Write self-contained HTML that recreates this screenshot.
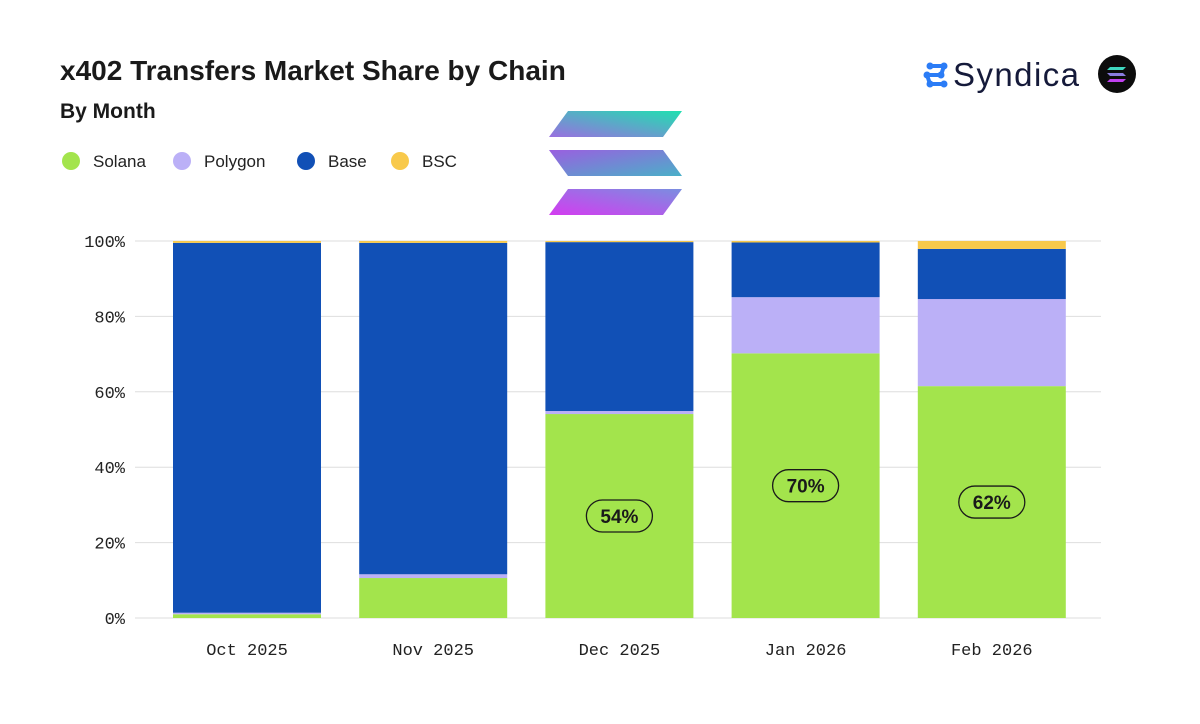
<!DOCTYPE html>
<html><head><meta charset="utf-8"><style>
body{margin:0;background:#fff;width:1200px;height:719px;overflow:hidden;font-family:"Liberation Sans",sans-serif}
</style></head><body>
<svg width="1200" height="719">
<defs>
<linearGradient id="g1" x1="0" y1="1" x2="1" y2="0"><stop offset="0" stop-color="#9a6fe0"/><stop offset="1" stop-color="#1fe0b0"/></linearGradient>
<linearGradient id="g2" x1="0" y1="0" x2="1" y2="1"><stop offset="0" stop-color="#9a5fe0"/><stop offset="1" stop-color="#4ab0c8"/></linearGradient>
<linearGradient id="g3" x1="0" y1="1" x2="1" y2="0"><stop offset="0" stop-color="#d43cf0"/><stop offset="1" stop-color="#7a8ee0"/></linearGradient>
</defs>
<text x="60" y="80" font-size="28" font-weight="bold" fill="#1a1a1a">x402 Transfers Market Share by Chain</text>
<text x="60" y="118" font-size="21" font-weight="bold" fill="#1a1a1a">By Month</text>
<g>
<polygon points="568,111 682,111 663,137 549,137" fill="url(#g1)"/>
<polygon points="549,150 663,150 682,176 568,176" fill="url(#g2)"/>
<polygon points="568,189 682,189 663,215 549,215" fill="url(#g3)"/>
</g>
<g>
<g fill="#2b7cf6"><circle cx="930" cy="66" r="3.5"/><circle cx="944" cy="66" r="3.5"/><circle cx="927" cy="75" r="3.5"/><circle cx="941" cy="75" r="3.5"/><circle cx="930" cy="84" r="3.5"/><circle cx="944" cy="84" r="3.5"/>
<path d="M930 66L944 66M927 75L941 75M930 84L944 84M944 66L941 75M930 84L927 75" stroke="#2b7cf6" stroke-width="4"/></g>
<text x="953" y="86" font-size="33" fill="#151a3a" textLength="126">Syndica</text>
<circle cx="1117" cy="74" r="19" fill="#0c0c0c"/>
<polygon points="1110,67 1126,67 1123,70 1107,70" fill="#3fd8c0"/>
<polygon points="1107,73 1123,73 1126,76 1110,76" fill="#8a7ce0"/>
<polygon points="1110,79 1126,79 1123,82 1107,82" fill="#c040f0"/>
</g>
<g id="legend"></g>
<g id="grid"></g><g id="bars"></g><g id="labels"></g>
</svg>
<script>
const categories=["Oct 2025","Nov 2025","Dec 2025","Jan 2026","Feb 2026"];
const solana=[1.0,10.6,54.1,70.2,61.5];
const polygon=[0.4,1.0,0.8,14.9,23.1];
const base=[98.1,87.9,44.8,14.5,13.3];
const bsc=[0.5,0.5,0.3,0.4,2.1];
const yTicks=[0,20,40,60,80,100];
const highlight=[null,null,"54%","70%","62%"];
const seriesNames=["Solana","Polygon","Base","BSC"];
const colors=["#a3e44c","#bbb0f7","#1150b6","#f8c94b"];
const NS="http://www.w3.org/2000/svg";
const y0=618,y1=241,plotL=135,plotR=1101;
const y=v=>y0-(y0-y1)*v/100;
const x=i=>173+i*186.2;const bw=148;
function mk(t,a,p){const e=document.createElementNS(NS,t);for(const k in a)e.setAttribute(k,a[k]);p.appendChild(e);return e;}
const grid=document.getElementById('grid');
yTicks.forEach(t=>{
 const l=mk('line',{x1:plotL,x2:plotR,y1:y(t),y2:y(t),stroke:'#dedede','stroke-width':1},grid);
 
 
 const tx=mk('text',{x:125,y:y(t)+6,'text-anchor':'end','font-size':17,'font-family':'Liberation Mono, monospace',fill:'#222'},grid);
 tx.textContent=t+'%';
 
 
});
const bars=document.getElementById('bars'),labels=document.getElementById('labels');
const series=[solana,polygon,base,bsc];
categories.forEach((c,i)=>{
 let acc=0;
 series.forEach((s,k)=>{
  const r=mk('rect',{x:x(i),y:y(acc+s[i]),width:bw,height:y(acc)-y(acc+s[i]),fill:colors[k]},bars);
  
  
  acc+=s[i];
 });
 const t=mk('text',{x:x(i)+bw/2,y:655,'text-anchor':'middle','font-size':17,'font-family':'Liberation Mono, monospace',fill:'#222'},labels);
 t.textContent=c;
 
 
 if(highlight[i]){
  const cy=y(solana[i]/2);
  const p=mk('rect',{x:x(i)+bw/2-33,y:cy-16,width:66,height:32,rx:16,fill:'none',stroke:'#1a1a1a','stroke-width':1.3},labels);
  
  
  const v=mk('text',{x:x(i)+bw/2,y:cy+7,'text-anchor':'middle','font-size':19,'font-weight':'bold',fill:'#1a1a1a'},labels);
  v.textContent=highlight[i];
  
  
 }
});
const lg=document.getElementById('legend');
const lx=[71,182,306,400];
seriesNames.forEach((n,k)=>{
 const c=mk('circle',{cx:lx[k],cy:161,r:9,fill:colors[k]},lg);
 
 
 const t=mk('text',{x:lx[k]+22,y:167,'font-size':17,fill:'#222'},lg);
 t.textContent=n;
 
 
});
</script>
</body></html>
